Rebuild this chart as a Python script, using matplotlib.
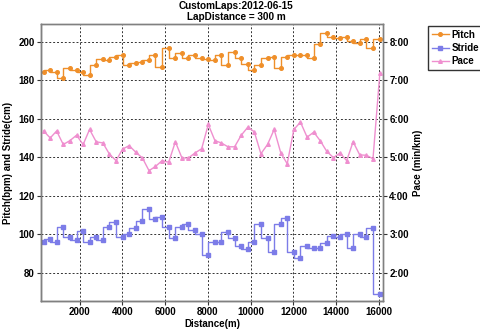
import matplotlib
matplotlib.use("Agg")
import matplotlib.pyplot as plt
from matplotlib.lines import Line2D

TITLE = "CustomLaps:2012-06-15\nLapDistance = 300 m"

distance_m = [
    320, 630, 930, 1240, 1550, 1860, 2170, 2470, 2780, 3090,
    3400, 3710, 4010, 4320, 4630, 4940, 5250, 5550, 5860, 6170,
    6480, 6790, 7090, 7400, 7710, 8020, 8330, 8630, 8940, 9250,
    9560, 9870, 10170, 10480, 10790, 11100, 11410, 11710, 12020, 12330,
    12640, 12950, 13250, 13560, 13870, 14180, 14490, 14790, 15100, 15410,
    15720, 16040,
]
pitch_bpm = [
    184.0, 185.2, 184.0, 181.0, 186.1, 185.4, 184.5, 182.8, 187.8, 191.0,
    190.3, 191.8, 193.0, 187.8, 188.9, 189.2, 190.4, 193.0, 187.0, 196.5,
    191.3, 193.9, 191.5, 193.0, 191.3, 191.0, 190.4, 193.0, 187.8, 194.4,
    191.3, 188.3, 185.2, 187.8, 191.3, 192.2, 186.1, 192.2, 193.0, 193.0,
    193.0, 191.3, 199.0, 204.7, 202.6, 201.7, 202.6, 200.5, 199.1, 201.2,
    196.5, 201.2,
]
stride_cm = [
    96.2, 97.6, 96.2, 104.0, 98.8, 97.1, 101.9, 96.2, 98.8, 97.1,
    104.0, 106.2, 98.8, 100.0, 103.1, 107.1, 113.1, 107.9, 108.8, 104.0,
    97.9, 104.0, 105.2, 102.2, 100.0, 89.0, 96.2, 96.2, 101.0, 97.9,
    94.0, 92.2, 96.2, 105.2, 97.9, 91.0, 105.2, 108.3, 91.0, 87.9,
    94.0, 92.8, 93.1, 95.3, 99.1, 98.3, 100.0, 93.1, 100.0, 98.8,
    103.1, 69.1,
]
pace_min_km = [
    5.68, 5.50, 5.68, 5.33, 5.43, 5.57, 5.33, 5.72, 5.40, 5.37,
    5.08, 4.91, 5.21, 5.30, 5.13, 4.98, 4.65, 4.76, 4.91, 4.87,
    5.40, 4.98, 4.98, 5.11, 5.22, 5.85, 5.43, 5.37, 5.27, 5.27,
    5.57, 5.78, 5.66, 5.09, 5.33, 5.72, 5.11, 4.83, 5.72, 5.91,
    5.52, 5.65, 5.43, 5.15, 4.99, 5.11, 4.91, 5.40, 5.06, 5.05,
    4.96, 7.18,
]

x_ticks = [2000, 4000, 6000, 8000, 10000, 12000, 14000, 16000]
left_ticks = [80, 100, 120, 140, 160, 180, 200]
pace_ticks = [2, 3, 4, 5, 6, 7, 8]
pace_labels = ["2:00", "3:00", "4:00", "5:00", "6:00", "7:00", "8:00"]

COLORS = {
    "pitch": "#ef8f2a",
    "stride": "#7c7ce8",
    "pace": "#ef8fcf",
    "grid": "#333333",
    "frame": "#808080",
}
plt.rcParams["font.family"] = ["Liberation Sans", "DejaVu Sans"]
FONT = {"fontsize": 7, "fontweight": "bold"}

fig = plt.figure(figsize=(4.8, 3.29), dpi=100)
ax = fig.add_axes([0.085, 0.085, 0.713, 0.841])
pace_ax = ax.twinx()

ax.plot(distance_m, pitch_bpm, drawstyle="steps-pre", color=COLORS["pitch"],
        lw=1.0, marker="o", ms=2.6, mec=COLORS["pitch"])
ax.plot(distance_m, stride_cm, drawstyle="steps-pre", color=COLORS["stride"],
        lw=1.0, marker="s", ms=3.0, mec=COLORS["stride"])
pace_ax.plot(distance_m, pace_min_km, color=COLORS["pace"], lw=1.0,
             marker="^", ms=2.6, mec=COLORS["pace"])

ax.set_xlim(190, 16190)
ax.set_ylim(65.3, 209)
pace_ax.set_ylim(1.265, 8.45)

ax.set_xticks(x_ticks)
ax.set_xticklabels([str(t) for t in x_ticks], **FONT)
ax.set_yticks(left_ticks)
ax.set_yticklabels([str(t) for t in left_ticks], **FONT)
pace_ax.set_yticks(pace_ticks)
pace_ax.set_yticklabels(pace_labels, **FONT)

ax.grid(True, color=COLORS["grid"], linestyle=(0, (2, 2)), linewidth=0.7)
ax.tick_params(length=3, width=0.8, pad=1.5, color="#333333")
pace_ax.tick_params(length=3, width=0.8, pad=1.5, color="#333333")

for a in (ax, pace_ax):
    for spine in a.spines.values():
        spine.set_color(COLORS["frame"])
        spine.set_linewidth(1.0)
ax.spines["left"].set_color("#555555")
ax.spines["bottom"].set_color("#555555")

ax.set_xlabel("Distance(m)", labelpad=1, **FONT)
ax.set_ylabel("Pitch(bpm) and Stride(cm)", labelpad=4, **FONT)
pace_ax.set_ylabel("Pace (min/km)", labelpad=3, **FONT)

fig.suptitle(TITLE, x=0.492, y=0.997, fontsize=7.2, fontweight="bold", linespacing=1.1)

handles = [
    Line2D([], [], color=COLORS["pitch"], lw=1.0, marker="o", ms=2.6),
    Line2D([], [], color=COLORS["stride"], lw=1.0, marker="s", ms=3.0),
    Line2D([], [], color=COLORS["pace"], lw=1.0, marker="^", ms=2.6),
]
leg = fig.legend(handles, ["Pitch", "Stride", "Pace"], loc="upper left",
                 bbox_to_anchor=(0.892, 0.922), fancybox=False, framealpha=1,
                 edgecolor="#333333", handlelength=1.7, handletextpad=0.3,
                 borderpad=0.4, labelspacing=0.35, borderaxespad=0,
                 prop={"size": 7, "weight": "bold"})
leg.get_frame().set_linewidth(1.0)

fig.savefig("out.png", dpi=100)
